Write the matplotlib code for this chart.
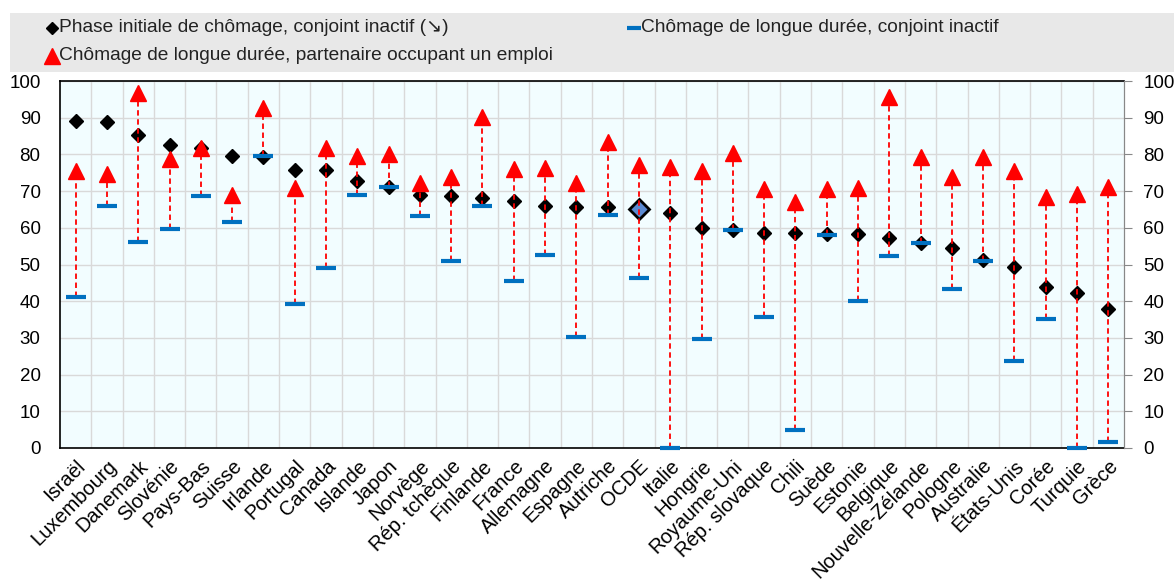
import matplotlib
matplotlib.use('Agg')
import matplotlib.pyplot as plt
from matplotlib.lines import Line2D
from matplotlib.patches import Rectangle
import numpy as np

plt.rcParams['font.family'] = ['Liberation Sans', 'DejaVu Sans']

# Données (%)
pays = ["Israël", "Luxembourg", "Danemark", "Slovénie", "Pays-Bas", "Suisse", "Irlande",
        "Portugal", "Canada", "Islande", "Japon", "Norvège", "Rép. tchèque", "Finlande",
        "France", "Allemagne", "Espagne", "Autriche", "OCDE", "Italie", "Hongrie",
        "Royaume-Uni", "Rép. slovaque", "Chili", "Suède", "Estonie", "Belgique",
        "Nouvelle-Zélande", "Pologne", "Australie", "États-Unis", "Corée", "Turquie", "Grèce"]
phase_initiale = [89.1, 88.7, 85.2, 82.6, 81.7, 79.7, 79.4, 75.8, 75.8, 72.7, 71.2, 69.0,
                  68.8, 68.0, 67.3, 66.0, 65.8, 65.8, 65.2, 64.1, 59.9, 59.4, 58.7, 58.7,
                  58.3, 58.3, 57.1, 55.8, 54.6, 51.2, 49.2, 43.8, 42.1, 37.9]
longue_inactif = [41.2, 65.9, 56.1, 59.7, 68.7, 61.6, 79.7, 39.2, 49.0, 69.0, 71.0, 63.2,
                  51.0, 65.9, 45.6, 52.6, 30.3, 63.6, 46.3, 0.0, 29.6, 59.3, 35.8, 4.9,
                  58.1, 40.1, 52.2, 55.9, 43.2, 51.0, 23.6, 35.1, 0.0, 1.7]
longue_emploi = [75.5, 74.6, 96.6, 78.7, 81.7, 68.9, 92.7, 70.9, 81.7, 79.7, 80.0, 72.1,
                 73.9, 90.3, 75.9, 76.2, 72.3, 83.4, 77.0, 76.7, 75.6, 80.3, 70.5, 67.1,
                 70.5, 70.8, 95.7, 79.4, 73.9, 79.4, 75.6, 68.5, 69.1, 71.2]

lab_phase = "Phase initiale de chômage, conjoint inactif (\u2198)"
lab_inactif = "Chômage de longue durée, conjoint inactif"
lab_emploi = "Chômage de longue durée, partenaire occupant un emploi"

W, H = 1174, 583
fig = plt.figure(figsize=(W / 100, H / 100), dpi=100)

# bandeau de légende
fig.add_artist(Rectangle((10 / W, 1 - 72 / H), (W - 10) / W, 59 / H,
                         transform=fig.transFigure, facecolor='#e8e8e8', edgecolor='none'))

def legende(px, py, marker, color, ms, mew, texte):
    fig.add_artist(Line2D([px / W], [1 - py / H], transform=fig.transFigure, marker=marker,
                          color=color, ms=ms, mew=mew, ls='none'))
    fig.text((px + 7) / W, 1 - py / H, texte, fontsize=13.8, va='center', ha='left',
             color='#222222')

legende(52, 28, 'D', 'black', 6, 1, lab_phase)
legende(52, 56, '^', 'red', 11, 1, lab_emploi)
legende(634, 28, '_', '#0070c0', 10, 3, lab_inactif)

ax = fig.add_axes([60 / W, 1 - 448 / H, 1064 / W, 367 / H])
ax.set_facecolor('#f2fdff')
x = np.arange(len(pays))

for i in x:
    ax.plot([i, i], [longue_inactif[i], longue_emploi[i]], color='#ff0000',
            ls=(0, (3, 2)), lw=1.3, zorder=3)

ax.plot(x, phase_initiale, 'D', color='black', ms=7, ls='none', zorder=2)
i_ocde = pays.index("OCDE")
ax.plot([i_ocde], [phase_initiale[i_ocde]], 'D', mfc='#5b8ad1', mec='black', mew=2,
        ms=10, ls='none', zorder=2.5)
ax.plot(x, longue_inactif, '_', color='#0070c0', ms=14, mew=3, ls='none', zorder=4,
        clip_on=False)
ax.plot(x, longue_emploi, '^', color='#ff0000', ms=11, ls='none', zorder=5)

ax.set_xlim(-0.5, len(pays) - 0.5)
ax.set_ylim(0, 100)
ax.set_yticks(range(0, 101, 10))
ax.set_xticks(x)
ax.set_xticklabels(pays, rotation=45, ha='right', rotation_mode='anchor', fontsize=14.5)
ax.set_xticks(x[:-1] + 0.5, minor=True)
ax.tick_params(axis='x', which='both', length=0, pad=6)
ax.tick_params(axis='y', length=0, labelsize=13.5, pad=14)
ax.grid(axis='y', color='#d9d9d9', lw=1)
ax.grid(axis='x', which='minor', color='#d9d9d9', lw=1)
ax.set_axisbelow(True)

for s in ['left', 'top', 'bottom']:
    ax.spines[s].set_color('black')
    ax.spines[s].set_linewidth(1.2)
ax.spines['right'].set_color('#888888')

ax2 = ax.twinx()
ax2.set_ylim(0, 100)
ax2.set_yticks(range(0, 101, 10))
ax2.tick_params(axis='y', length=6, color='#888888', labelsize=13.5, pad=8)
for s in ['left', 'top', 'bottom']:
    ax2.spines[s].set_visible(False)
ax2.spines['right'].set_color('#888888')

fig.savefig('out.png', dpi=100)
